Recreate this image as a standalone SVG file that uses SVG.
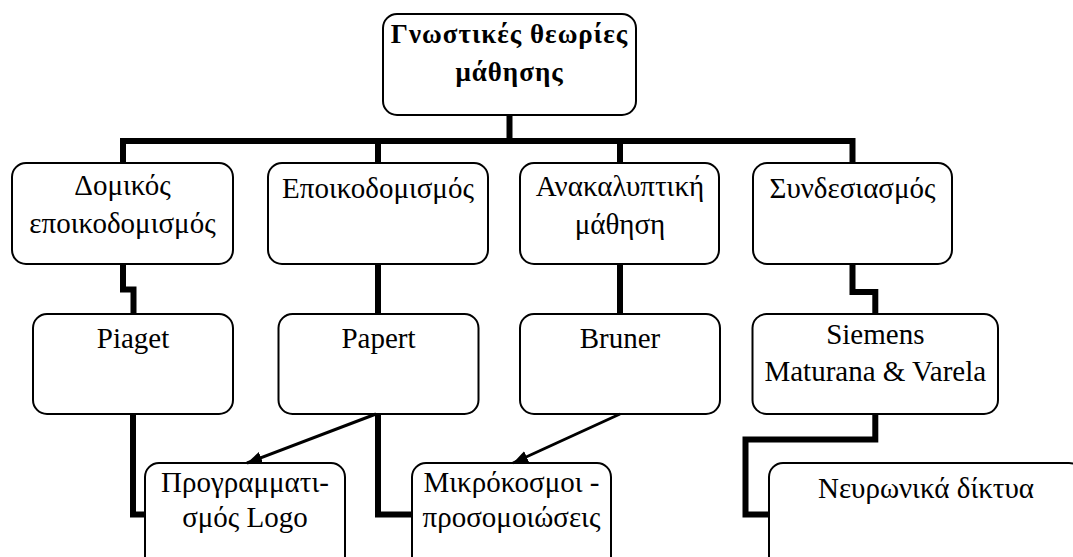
<svg xmlns="http://www.w3.org/2000/svg" width="1073" height="557" viewBox="0 0 1073 557">
  <style>
    .box { fill: #fff; stroke: #000; stroke-width: 2; }
    text { font-family: 'Liberation Serif', 'Times New Roman', Times, serif; fill: #000; text-anchor: middle; }
    .t { font-size: 29px; }
    .tb { font-size: 27px; font-weight: bold; letter-spacing: 1px; }
    .bar { fill: none; stroke: #000; stroke-width: 6; stroke-linejoin: miter; stroke-linecap: butt; }
    .arr { fill: none; stroke: #000; stroke-width: 3; }
  </style>
  <defs>
    <marker id="head" viewBox="0 0 10 10" refX="10" refY="5" markerWidth="5" markerHeight="5" orient="auto" markerUnits="strokeWidth">
      <path d="M0,1 L10,5 L0,9 Z" fill="#000"/>
    </marker>
  </defs>

  <!-- top node -->
  <g id="root">
    <rect class="box" x="383" y="14" width="253" height="101" rx="14"/>
    <text class="tb" x="509.5" y="43">Γνωστικές θεωρίες</text>
    <text class="tb" x="509.5" y="81">μάθησης</text>
  </g>

  <!-- first row -->
  <g id="domikos">
    <rect class="box" x="12" y="163" width="221" height="101" rx="14"/>
    <text class="t" x="122.5" y="195">Δομικός</text>
    <text class="t" x="122.5" y="233">εποικοδομισμός</text>
  </g>
  <g id="epoikodomismos">
    <rect class="box" x="268" y="163" width="220" height="101" rx="14"/>
    <text class="t" x="378" y="198">Εποικοδομισμός</text>
  </g>
  <g id="anakalyptiki">
    <rect class="box" x="520" y="163" width="199" height="101" rx="14"/>
    <text class="t" x="620" y="196">Ανακαλυπτική</text>
    <text class="t" x="620" y="234">μάθηση</text>
  </g>
  <g id="syndesiasmos">
    <rect class="box" x="753" y="163" width="199" height="101" rx="14"/>
    <text class="t" x="852.5" y="198">Συνδεσιασμός</text>
  </g>

  <!-- second row -->
  <g id="piaget">
    <rect class="box" x="33" y="314" width="200" height="100" rx="14"/>
    <text class="t" x="133" y="348">Piaget</text>
  </g>
  <g id="papert">
    <rect class="box" x="278.5" y="314" width="200" height="100" rx="14"/>
    <text class="t" x="378.5" y="348">Papert</text>
  </g>
  <g id="bruner">
    <rect class="box" x="520" y="314" width="200" height="100" rx="14"/>
    <text class="t" x="620" y="348">Bruner</text>
  </g>
  <g id="siemens">
    <rect class="box" x="752.5" y="314" width="245.5" height="100" rx="14"/>
    <text class="t" x="875.3" y="344">Siemens</text>
    <text class="t" x="875.3" y="381">Maturana &amp; Varela</text>
  </g>

  <!-- third row -->
  <g id="logo">
    <rect class="box" x="145" y="463" width="200" height="110" rx="14"/>
    <text class="t" x="245" y="492">Προγραμματι-</text>
    <text class="t" x="245" y="527">σμός Logo</text>
  </g>
  <g id="mikrokosmoi">
    <rect class="box" x="412" y="463" width="199" height="110" rx="14"/>
    <text class="t" x="511.5" y="492">Μικρόκοσμοι -</text>
    <text class="t" x="511.5" y="527">προσομοιώσεις</text>
  </g>
  <g id="neurwnika">
    <rect class="box" x="769" y="463" width="314" height="110" rx="14"/>
    <text class="t" x="926" y="498">Νευρωνικά δίκτυα</text>
  </g>

  <g id="connectors">
    <path class="bar" d="M509.5,115 V141"/>
    <path class="bar" d="M123,163 V141 H852.5 V163"/>
    <path class="bar" d="M378,141 V163"/>
    <path class="bar" d="M620,141 V163"/>
    <path class="bar" d="M123,264 V289.5 H133.5 V314"/>
    <path class="bar" d="M378,264 V314"/>
    <path class="bar" d="M620,264 V314"/>
    <path class="bar" d="M852.5,264 V292 H875.3 V314"/>
    <path class="bar" d="M133,414 V514.5 H145"/>
    <path class="bar" d="M378,414 V514.5 H412"/>
    <path class="bar" d="M875.3,414 V439.5 H745.5 V514.5 H769"/>
    <path class="arr" d="M376,414 L247,463" marker-end="url(#head)"/>
    <path class="arr" d="M620,414 L513,463" marker-end="url(#head)"/>
  </g>
</svg>
